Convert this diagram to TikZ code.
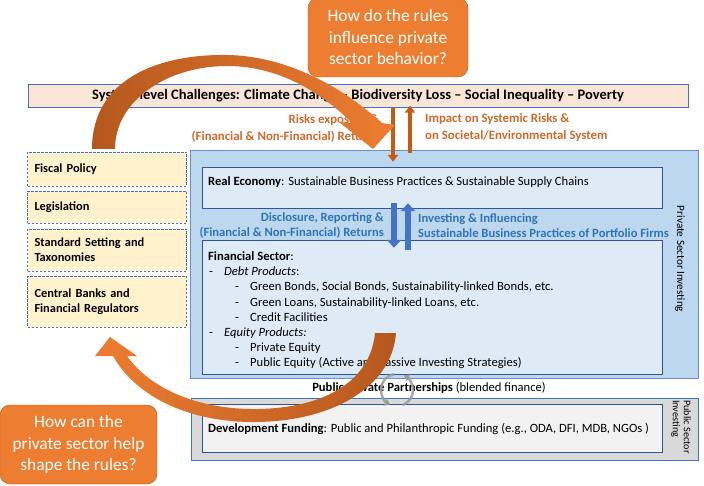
\documentclass[tikz,border=0pt]{standalone}
\usepackage{fontspec}
\setmainfont{Carlito}
\usetikzlibrary{positioning,arrows.meta}
\definecolor{lineblue}{HTML}{4472C4}
\definecolor{darkblue}{HTML}{2F5597}
\definecolor{chalfill}{HTML}{FBE5D6}
\definecolor{privfill}{HTML}{BDD7EE}
\definecolor{innerfill}{HTML}{DEEBF7}
\definecolor{policyfill}{HTML}{FFF2CC}
\definecolor{pubfill}{HTML}{D9D9D9}
\definecolor{devfill}{HTML}{F2F2F2}
\definecolor{qorange}{HTML}{ED7D31}
\definecolor{qborder}{HTML}{AE5A21}
\definecolor{riskorange}{HTML}{C55A11}
\definecolor{risktextc}{HTML}{D0692A}
\definecolor{flowblue}{HTML}{2E75B6}
\definecolor{arrowdark}{HTML}{B5581E}
\definecolor{cyclegray}{HTML}{9A9A9A}
\newcommand{\bodysize}{\fontsize{12.6}{15.2}\selectfont}
\tikzstyle{challenge}=[draw=lineblue, fill=chalfill, minimum width=660pt, minimum height=23pt, font=\bfseries\fontsize{14.5}{16}\selectfont]
\tikzstyle{privbox}=[draw=lineblue!80, fill=privfill]
\tikzstyle{innerbox}=[draw=darkblue, fill=innerfill, minimum width=460pt]
\tikzstyle{pubbox}=[draw=lineblue, fill=pubfill]
\tikzstyle{devbox}=[draw=darkblue, fill=devfill, minimum width=460pt]
\tikzstyle{policy}=[draw=lineblue, dash pattern=on 2.5pt off 1.5pt, fill=policyfill, text width=145pt, inner xsep=7pt, align=left, font=\bfseries\fontsize{12.4}{15}\selectfont]
\tikzstyle{boxtext}=[inner sep=0pt, font=\bodysize]
\tikzstyle{sidelabel}=[inner sep=0pt, font=\fontsize{11.2}{12}\selectfont]
\tikzstyle{risktext}=[inner sep=0pt, text=risktextc, font=\bfseries\fontsize{12.8}{17}\selectfont]
\tikzstyle{flowtext}=[inner sep=0pt, text=flowblue, font=\bfseries\fontsize{12.6}{15}\selectfont]
\tikzstyle{question}=[draw=qborder, fill=qorange, rounded corners=10pt, text=white, align=center, font=\fontsize{17.4}{21.5}\selectfont]
\tikzstyle{riskflow}=[draw=riskorange, line width=4pt, -{Triangle[width=10pt,length=7pt]}]
\tikzstyle{blueflow}=[draw=lineblue, line width=6.5pt, -{Triangle[width=14pt,length=8pt]}]
\tikzstyle{cycle}=[draw=cyclegray, draw opacity=0.85, line width=2.5pt, -{Triangle[width=7.5pt,length=5.5pt]}]

\begin{document}
\begin{tikzpicture}[x=1pt, y=-1pt, node distance=5pt]
    \useasboundingbox (0,0) rectangle (704,486);

    % top bar
    \node[challenge] (chal) at (358,96) {System-level Challenges: Climate Change -- Biodiversity Loss -- Social Inequality -- Poverty};
    \node[risktext, anchor=east, align=right] (riskexp) at (379,128) {Risks exposure \&\\(Financial \& Non-Financial) Returns};
    \node[risktext, anchor=west, align=left] (impact) at (425,128) {Impact on Systemic Risks \&\\on Societal/Environmental System};

    % private sector
    \node[privbox, minimum width=508pt, minimum height=228pt] (priv) at (444,264) {};
    \node[sidelabel, rotate=-90] (privlabel) at (680,259) {Private Sector Investing};
    \node[innerbox, minimum height=41pt] (realeco) at (432,187.5) {};
    \node[boxtext, anchor=west] (realecotxt) at (208,182) {\textbf{Real Economy}: Sustainable Business Practices \& Sustainable Supply Chains};
    \node[flowtext, anchor=east, align=right] (disclose) at (384,225.5) {Disclosure, Reporting \&\\(Financial \& Non-Financial) Returns};
    \node[flowtext, anchor=west, align=left] (influence) at (418,225.5) {Investing \& Influencing\\Sustainable Business Practices of Portfolio Firms};
    \node[innerbox, minimum height=134pt] (finsec) at (432,307) {};
    \node[boxtext, anchor=north west, align=left] (finsectxt) at (208,251.5) {\textbf{Financial Sector}:\\
        \hspace*{1pt}\makebox[15pt][l]{-}\textit{Debt Products}:\\
        \hspace*{27pt}\makebox[15pt][l]{-}Green Bonds, Social Bonds, Sustainability-linked Bonds, etc.\\
        \hspace*{27pt}\makebox[15pt][l]{-}Green Loans, Sustainability-linked Loans, etc.\\
        \hspace*{27pt}\makebox[15pt][l]{-}Credit Facilities\\
        \hspace*{1pt}\makebox[15pt][l]{-}\textit{Equity Products:}\\
        \hspace*{27pt}\makebox[15pt][l]{-}Private Equity\\
        \hspace*{27pt}\makebox[15pt][l]{-}Public Equity (Active and Passive Investing Strategies)};

    % public sector
    \node[boxtext] (ppp) at (429,388) {\textbf{Public-Private Partnerships} (blended finance)};
    \node[pubbox, minimum width=507pt, minimum height=62pt] (pub) at (444.5,429) {};
    \node[sidelabel, rotate=-90, anchor=west, align=left, font=\fontsize{10.2}{11}\selectfont] (publabel) at (681,400) {Public Sector\\Investing};
    \node[devbox, minimum height=48pt] (dev) at (432,428) {};
    \node[boxtext, anchor=west] (devtxt) at (208,429) {\textbf{Development Funding}: Public and Philanthropic Funding (e.g., ODA, DFI, MDB, NGOs )};

    % rules column
    \node[policy, minimum height=34pt] (fiscal) at (107,169) {Fiscal Policy};
    \node[policy, minimum height=32pt, below=of fiscal] (legis) {Legislation};
    \node[policy, minimum height=42pt, below=of legis] (standard) {Standard Setting and\\Taxonomies};
    \node[policy, minimum height=51pt, below=of standard] (central) {Central Banks and\\Financial Regulators};

    % flows
    \path
        ([xshift=35pt]chal.south) edge [riskflow] ([xshift=-51pt,yshift=-12pt]priv.north)
        ([xshift=-34pt,yshift=-3pt]priv.north) edge [riskflow] ([xshift=52pt,yshift=2pt]chal.south)
        ([xshift=-38pt,yshift=5pt]realeco.south) edge [blueflow] ([xshift=-38pt,yshift=-8pt]finsec.north)
        ([xshift=-24pt,yshift=-10pt]finsec.north) edge [blueflow] ([xshift=-24pt,yshift=5pt]realeco.south)
        ;

    % big arrows
    \shade[left color=arrowdark, right color=qorange] (92,149) .. controls (92,78) and (160,54) .. (227,55) .. controls (292,56) and (348,92) .. (382,123) -- (395,125) -- (373,149) -- (339,122) -- (352,123) .. controls (325,96) and (282,66) .. (227,66) .. controls (168,66) and (115,100) .. (115,149) -- cycle;
    \shade[left color=qorange, right color=arrowdark] (396,333) .. controls (392,388) and (330,423) .. (250,422) .. controls (185,421) and (135,395) .. (113,356) -- (95,356) -- (110,337) -- (137,356) -- (127,356) .. controls (150,388) and (195,408) .. (250,409) .. controls (318,410) and (370,385) .. (375,333) -- cycle;

    % questions
    \node[question, minimum width=160pt, minimum height=79pt] (qrules) at (388,37.5) {How do the rules\\influence private\\sector behavior?};
    \node[question, minimum width=157pt, minimum height=79pt] (qshape) at (78.5,444.5) {How can the\\private sector help\\shape the rules?};

    % blended finance icon
    \coordinate (cyc) at (397,390);
    \draw[cycle] ([shift={(-100:16)}]cyc) arc[start angle=-100, end angle=-245, radius=16];
    \draw[cycle] ([shift={(70:16)}]cyc) arc[start angle=70, end angle=-65, radius=16];
\end{tikzpicture}
\end{document}
